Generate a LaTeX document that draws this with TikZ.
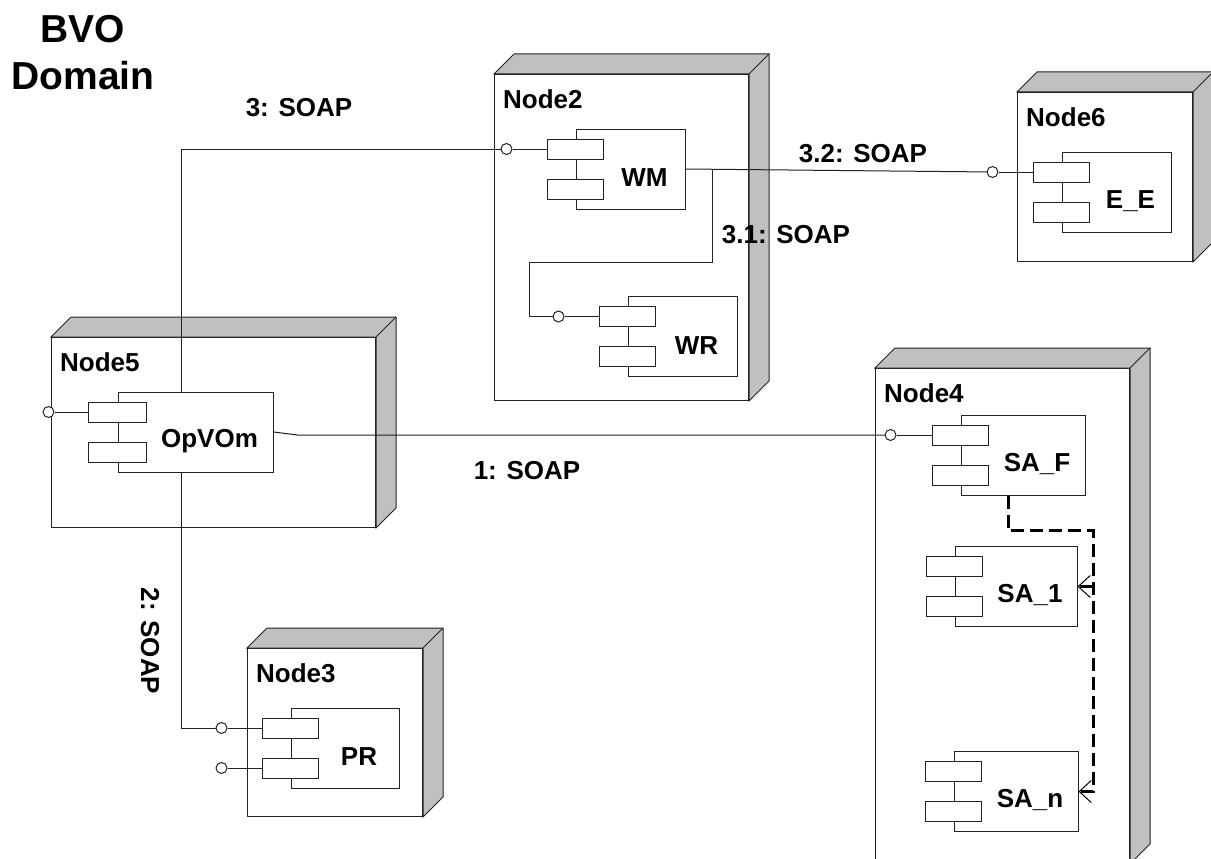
\documentclass[tikz,border=0pt]{standalone}
\usepackage{fontspec}
\setmainfont{Liberation Sans}
\usepackage{xcolor}
\usepackage{tikz}
\usetikzlibrary{positioning, arrows.meta}
\definecolor{ink}{RGB}{34,34,34}
\definecolor{shade}{RGB}{192,192,192}

\begin{document}
\begin{tikzpicture}[
  x=1pt, y=-1pt,
  device/.style={draw=ink, fill=white, line width=1pt, anchor=north west, inner sep=0pt},
  face/.style={draw=ink, fill=shade, line width=1pt},
  comp/.style={draw=ink, fill=white, line width=1pt, minimum height=80pt, inner sep=0pt},
  port/.style={draw=ink, fill=white, line width=1pt, minimum width=56pt,
               minimum height=20pt, inner sep=0pt},
  socket/.style={circle, draw=ink, fill=white, line width=1pt, minimum size=11pt, inner sep=0pt},
  wire/.style={draw=ink, line width=1pt},
  dep/.style={draw=black, line width=3pt, dash pattern=on 13pt off 6pt,
              -{Straight Barb[length=12pt, width=22pt, line width=1pt]}},
  big/.style={font=\bfseries\fontsize{26}{31}\selectfont, inner sep=0pt},
  title/.style={font=\bfseries\fontsize{39}{47}\selectfont, align=center, inner sep=0pt},
  dlbl/.style={big, anchor=north west, xshift=9pt, yshift=-15pt},
  clbl/.style={big, anchor=base, xshift=14pt, yshift=-9pt}]
  \useasboundingbox (0,0) rectangle (1211,859);
  \node[title, anchor=north] (title) at (83,15) {BVO\\Domain};
  % devices
  \node[device, minimum width=254pt, minimum height=326pt, label={[dlbl]north west:Node2}] (node2) at (494,74) {};
  \draw[face] (node2.north west) -- ++(20,-20) -| ([shift={(20,-20)}]node2.south east) -- (node2.south east) -- (node2.north east) -- cycle;
  \draw[face] (node2.north east) -- ++(20,-20);
  \node[device, minimum width=324pt, minimum height=190pt, label={[dlbl]north west:Node5}] (node5) at (51,337) {};
  \draw[face] (node5.north west) -- ++(20,-20) -| ([shift={(20,-20)}]node5.south east) -- (node5.south east) -- (node5.north east) -- cycle;
  \draw[face] (node5.north east) -- ++(20,-20);
  \node[device, minimum width=175pt, minimum height=168pt, label={[dlbl]north west:Node3}] (node3) at (247,648) {};
  \draw[face] (node3.north west) -- ++(20,-20) -| ([shift={(20,-20)}]node3.south east) -- (node3.south east) -- (node3.north east) -- cycle;
  \draw[face] (node3.north east) -- ++(20,-20);
  \node[device, minimum width=254pt, minimum height=495pt, label={[dlbl]north west:Node4}] (node4) at (875,368) {};
  \draw[face] (node4.north west) -- ++(20,-20) -| ([shift={(20,-20)}]node4.south east) -- (node4.south east) -- (node4.north east) -- cycle;
  \draw[face] (node4.north east) -- ++(20,-20);
  \node[device, minimum width=175pt, minimum height=169pt, label={[dlbl]north west:Node6}] (node6) at (1017,92) {};
  \draw[face] (node6.north west) -- ++(20,-20) -| ([shift={(20,-20)}]node6.south east) -- (node6.south east) -- (node6.north east) -- cycle;
  \draw[face] (node6.north east) -- ++(20,-20);
  % components
  \node[comp, minimum width=109pt, label={[clbl]center:WM}] (wm) at (630.5,169) {};
  \node[port] (wm-a) at ([yshift=20pt]wm.west) {};
  \node[port] (wm-b) at ([yshift=-20pt]wm.west) {};
  \node[socket, left=34.5pt of wm-a] (wm-s) {};
  \node[comp, minimum width=109pt, label={[clbl]center:WR}] (wr) at (682.5,336.5) {};
  \node[port] (wr-a) at ([yshift=20pt]wr.west) {};
  \node[port] (wr-b) at ([yshift=-20pt]wr.west) {};
  \node[socket, left=34.5pt of wr-a] (wr-s) {};
  \node[comp, minimum width=155pt, label={[clbl]center:OpVOm}] (opvom) at (195.5,432) {};
  \node[port, minimum width=58pt] (opvom-a) at ([yshift=20pt]opvom.west) {};
  \node[port, minimum width=58pt] (opvom-b) at ([yshift=-20pt]opvom.west) {};
  \node[socket, left=33.5pt of opvom-a] (opvom-s) {};
  \node[comp, minimum width=108pt, label={[clbl]center:PR}] (pr) at (345,748) {};
  \node[port] (pr-a) at ([yshift=20pt]pr.west) {};
  \node[port] (pr-b) at ([yshift=-20pt]pr.west) {};
  \node[socket, left=34.5pt of pr-a] (pr-s1) {};
  \node[socket, left=34.5pt of pr-b] (pr-s2) {};
  \node[comp, minimum width=109pt, label={[clbl]center:E\_E}] (ee) at (1116.5,192) {};
  \node[port] (ee-a) at ([yshift=20pt]ee.west) {};
  \node[port] (ee-b) at ([yshift=-20pt]ee.west) {};
  \node[socket, left=34.5pt of ee-a] (ee-s) {};
  \node[comp, minimum width=124pt, label={[clbl]center:SA\_F}] (saf) at (1023,455) {};
  \node[port] (saf-a) at ([yshift=20pt]saf.west) {};
  \node[port] (saf-b) at ([yshift=-20pt]saf.west) {};
  \node[socket, left=35.5pt of saf-a] (saf-s) {};
  \node[comp, minimum width=122pt, label={[clbl]center:SA\_1}] (sa1) at (1016,586.5) {};
  \node[port] (sa1-a) at ([yshift=20pt]sa1.west) {};
  \node[port] (sa1-b) at ([yshift=-20pt]sa1.west) {};
  \node[comp, minimum width=124pt, label={[clbl]center:SA\_n}] (san) at (1016,791.5) {};
  \node[port] (san-a) at ([yshift=20pt]san.west) {};
  \node[port] (san-b) at ([yshift=-20pt]san.west) {};
  % connectors
  \coordinate (bus) at (181,150);
  \draw[wire] (wm-s) -- (wm-a);
  \draw[wire] (wr-s) -- (wr-a);
  \draw[wire] (opvom-s) -- (opvom-a);
  \draw[wire] (pr-s1) -- (pr-a);
  \draw[wire] (pr-s2) -- (pr-b);
  \draw[wire] (ee-s) -- (ee-a);
  \draw[wire] (saf-s) -- (saf-a);
  \draw[wire] (bus |- opvom.north) |- (wm-s);
  \draw[wire] (bus |- opvom.south) |- (pr-s1);
  \draw[wire] (opvom.east) -- ++(24,3) -- (saf-s);
  \draw[wire] (wm.east) -- (ee-s);
  \draw[wire] ([xshift=27pt]wm.east) |- ++(-183,93) |- (wr-s);
  \draw[dep] ([xshift=-15pt]saf.south) |- ++(85,35) coordinate (drop) |- (san.east);
  \draw[dep] (drop |- sa1.east) -- (sa1.east);
  % connector labels
  \node[big, anchor=base] (l3) at (299,117) {3: SOAP};
  \node[big, anchor=base] (l32) at (863,162) {3.2: SOAP};
  \node[big, anchor=base] (l31) at (786,243) {3.1: SOAP};
  \node[big, anchor=base] (l1) at (527,479) {1: SOAP};
  \node[big, rotate=-90] (l2) at (150,641) {2: SOAP};
\end{tikzpicture}
\end{document}
